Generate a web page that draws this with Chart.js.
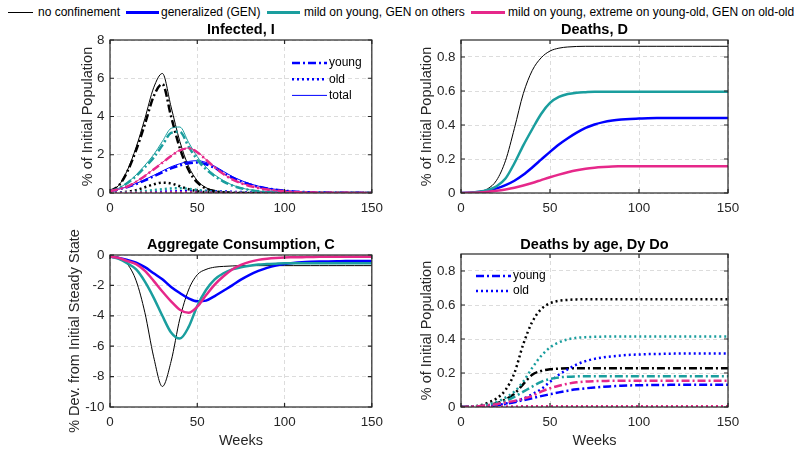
<!DOCTYPE html>
<html>
<head>
<meta charset="utf-8">
<script src="https://cdn.jsdelivr.net/npm/chart.js@4.4.0/dist/chart.umd.min.js"></script>
<style>
  body { margin:0; background:#fff; width:805px; height:451px; position:relative; overflow:hidden; font-family:"Liberation Sans", Arial, sans-serif; }
  canvas { position:absolute; }
  #topLegend { position:absolute; left:0; top:0; width:805px; height:24px; font-size:12px; color:#000; }
  #topLegend .ln { position:absolute; }
  #topLegend .tx { position:absolute; top:5px; white-space:nowrap; }
</style>
</head>
<body>
<div id="topLegend"></div>
<canvas id="infected" width="390" height="200" style="left:0;top:20px"></canvas>
<canvas id="deaths" width="405" height="200" style="left:400px;top:20px"></canvas>
<canvas id="consumption" width="390" height="231" style="left:0;top:220px"></canvas>
<canvas id="deathsAge" width="405" height="231" style="left:400px;top:220px"></canvas>
<script>
// weeks on x axis
const weeks = [0,5,10,15,20,25,30,35,40,45,50,55,60,65,70,75,80,85,90,95,100,105,110,115,120,125,130,135,140,145,150];

const scenarios = ['no confinement', 'generalized (GEN)', 'mild on young, GEN on others', 'mild on young, extreme on young-old, GEN on old-old'];
const colors = ['#000000', '#0000ff', '#1a9e9e', '#e6288a'];

// Infected, % of initial population (total / young / old)
const infTotalNone  = [0.1,0.4,1.2,2.4,3.9,5.5,6.25,4.5,2.7,1.4,0.65,0.28,0.12,0.05,0.02,0.01,0,0,0,0,0,0,0,0,0,0,0,0,0,0,0];
const infYoungNone  = [0.1,0.38,1.13,2.25,3.6,5.05,5.7,4.0,2.35,1.2,0.55,0.24,0.1,0.04,0.02,0.01,0,0,0,0,0,0,0,0,0,0,0,0,0,0,0];
const infOldNone    = [0,0.02,0.07,0.15,0.3,0.45,0.54,0.5,0.35,0.2,0.1,0.04,0.02,0.01,0,0,0,0,0,0,0,0,0,0,0,0,0,0,0,0,0];
const infTotalGen   = [0.1,0.2,0.33,0.5,0.7,0.92,1.15,1.37,1.53,1.65,1.69,1.6,1.4,1.13,0.87,0.66,0.49,0.36,0.26,0.19,0.13,0.09,0.06,0.04,0.03,0.02,0.015,0.01,0.01,0.005,0.005];
const infYoungGen   = [0.1,0.19,0.31,0.47,0.66,0.87,1.08,1.29,1.44,1.55,1.59,1.5,1.31,1.05,0.81,0.61,0.45,0.33,0.24,0.175,0.12,0.08,0.055,0.035,0.03,0.02,0.015,0.01,0.01,0.005,0.005];
const infOldGen     = [0,0.01,0.02,0.03,0.04,0.05,0.07,0.08,0.09,0.1,0.1,0.1,0.09,0.08,0.06,0.05,0.04,0.03,0.02,0.015,0.01,0.01,0.005,0.005,0,0,0,0,0,0,0];
const infTotalMild  = [0.1,0.25,0.55,0.95,1.45,2.0,2.7,3.38,3.45,2.65,1.9,1.35,0.95,0.65,0.42,0.27,0.17,0.1,0.06,0.04,0.02,0.015,0.01,0.01,0.005,0.005,0,0,0,0,0];
const infYoungMild  = [0.1,0.24,0.52,0.89,1.35,1.85,2.5,3.14,3.2,2.43,1.74,1.24,0.88,0.6,0.39,0.25,0.16,0.09,0.06,0.04,0.02,0.015,0.01,0.01,0.005,0.005,0,0,0,0,0];
const infOldMild    = [0,0.01,0.03,0.06,0.1,0.15,0.2,0.24,0.25,0.22,0.16,0.11,0.07,0.05,0.03,0.02,0.01,0.01,0,0,0,0,0,0,0,0,0,0,0,0,0];
const infTotalExt   = [0.1,0.2,0.35,0.6,0.9,1.25,1.6,1.95,2.25,2.35,2.15,1.75,1.35,1.0,0.72,0.52,0.38,0.27,0.19,0.13,0.09,0.06,0.04,0.03,0.02,0.015,0.01,0.01,0.005,0.005,0.005];
const infYoungExt   = [0.1,0.2,0.34,0.59,0.89,1.23,1.58,1.93,2.23,2.33,2.13,1.74,1.34,0.99,0.71,0.51,0.37,0.26,0.18,0.13,0.09,0.06,0.04,0.03,0.02,0.015,0.01,0.01,0.005,0.005,0.005];
const infOldExt     = [0,0.005,0.007,0.01,0.012,0.015,0.018,0.02,0.02,0.02,0.02,0.015,0.012,0.01,0.008,0.006,0.005,0.004,0.003,0.002,0.002,0.001,0,0,0,0,0,0,0,0,0];

// Deaths, % of initial population
const deathsNone = [0,0.002,0.008,0.025,0.075,0.19,0.38,0.585,0.72,0.795,0.835,0.852,0.859,0.862,0.863,0.863,0.863,0.863,0.863,0.863,0.863,0.863,0.863,0.863,0.863,0.863,0.863,0.863,0.863,0.863,0.863];
const deathsGen  = [0,0.002,0.006,0.014,0.027,0.046,0.072,0.107,0.15,0.196,0.242,0.285,0.322,0.355,0.383,0.403,0.417,0.426,0.432,0.436,0.438,0.44,0.441,0.441,0.441,0.441,0.441,0.441,0.441,0.441,0.441];
const deathsMild = [0,0.002,0.007,0.018,0.04,0.085,0.175,0.28,0.375,0.465,0.53,0.565,0.582,0.59,0.593,0.595,0.595,0.595,0.595,0.595,0.595,0.595,0.595,0.595,0.595,0.595,0.595,0.595,0.595,0.595,0.595];
const deathsExt  = [0,0.001,0.003,0.007,0.013,0.021,0.031,0.044,0.059,0.076,0.093,0.108,0.122,0.134,0.143,0.149,0.153,0.156,0.157,0.158,0.158,0.158,0.158,0.158,0.158,0.158,0.158,0.158,0.158,0.158,0.158];

// Aggregate consumption, % dev. from initial steady state
const consNone = [-0.1,-0.15,-0.6,-1.7,-3.8,-6.7,-8.65,-7.0,-4.2,-2.3,-1.3,-0.95,-0.8,-0.75,-0.72,-0.7,-0.7,-0.7,-0.7,-0.7,-0.7,-0.7,-0.7,-0.7,-0.7,-0.7,-0.7,-0.7,-0.7,-0.7,-0.7];
const consGen  = [-0.1,-0.2,-0.33,-0.5,-0.8,-1.2,-1.6,-2.1,-2.5,-2.85,-3.05,-3.0,-2.7,-2.35,-2.0,-1.62,-1.3,-1.05,-0.85,-0.7,-0.6,-0.53,-0.48,-0.45,-0.43,-0.42,-0.41,-0.4,-0.4,-0.39,-0.39];
const consMild = [-0.1,-0.25,-0.55,-0.95,-1.75,-2.8,-4.0,-5.1,-5.5,-4.75,-3.35,-2.3,-1.6,-1.2,-0.95,-0.8,-0.7,-0.63,-0.6,-0.57,-0.55,-0.55,-0.55,-0.55,-0.55,-0.55,-0.55,-0.55,-0.55,-0.55,-0.55];
const consExt  = [-0.1,-0.2,-0.4,-0.6,-1.05,-1.7,-2.4,-3.05,-3.6,-3.8,-3.4,-2.65,-1.95,-1.4,-0.95,-0.65,-0.45,-0.32,-0.24,-0.19,-0.16,-0.15,-0.14,-0.13,-0.12,-0.12,-0.12,-0.12,-0.12,-0.12,-0.12];

// Deaths by age, young (Dy) and old (Do)
const dyNone = [0,0.001,0.003,0.01,0.022,0.045,0.078,0.135,0.19,0.212,0.222,0.226,0.228,0.228,0.228,0.228,0.228,0.228,0.228,0.228,0.228,0.228,0.228,0.228,0.228,0.228,0.228,0.228,0.228,0.228,0.228];
const doNone = [0,0.002,0.008,0.025,0.05,0.1,0.2,0.37,0.5,0.575,0.61,0.625,0.63,0.633,0.634,0.634,0.634,0.634,0.634,0.634,0.634,0.634,0.634,0.634,0.634,0.634,0.634,0.634,0.634,0.634,0.634];
const dyGen  = [0,0.001,0.002,0.005,0.01,0.018,0.028,0.04,0.052,0.064,0.075,0.086,0.096,0.104,0.11,0.115,0.119,0.122,0.125,0.127,0.128,0.129,0.13,0.13,0.131,0.131,0.131,0.131,0.131,0.131,0.131];
const doGen  = [0,0.001,0.002,0.005,0.011,0.02,0.032,0.05,0.075,0.105,0.148,0.19,0.222,0.25,0.27,0.283,0.292,0.298,0.303,0.307,0.309,0.311,0.312,0.313,0.314,0.315,0.315,0.315,0.315,0.315,0.315];
const dyMild = [0,0.001,0.003,0.008,0.018,0.035,0.06,0.09,0.12,0.148,0.165,0.174,0.178,0.18,0.181,0.181,0.181,0.181,0.181,0.181,0.181,0.181,0.181,0.181,0.181,0.181,0.181,0.181,0.181,0.181,0.181];
const doMild = [0,0.002,0.006,0.015,0.03,0.055,0.09,0.15,0.23,0.3,0.35,0.38,0.398,0.407,0.411,0.413,0.414,0.415,0.415,0.415,0.415,0.415,0.415,0.415,0.415,0.415,0.415,0.415,0.415,0.415,0.415];
const dyExt  = [0,0.002,0.005,0.01,0.017,0.027,0.036,0.049,0.065,0.09,0.11,0.125,0.137,0.145,0.15,0.152,0.153,0.154,0.154,0.154,0.154,0.154,0.154,0.154,0.154,0.154,0.154,0.154,0.154,0.154,0.154];
const doExt  = [0,0.001,0.001,0.002,0.002,0.003,0.003,0.004,0.004,0.004,0.004,0.005,0.005,0.005,0.005,0.005,0.005,0.005,0.005,0.005,0.005,0.005,0.005,0.005,0.005,0.005,0.005,0.005,0.005,0.005,0.005];

const frame = '#262626';
const gridCol = '#dcdcdc';
const dashDot = [8, 3, 2, 3];
const dotted = [2, 3];
Chart.defaults.font.family = '"Liberation Sans", Arial, sans-serif';

// top legend, built from the scenario list
const legendPos = [[8, 25, 38], [126, 33, 161], [267, 33, 304], [471, 34, 508]];
const topLegend = document.getElementById('topLegend');
scenarios.forEach((name, i) => {
    const ln = document.createElement('div');
    ln.className = 'ln';
    const w = i === 0 ? 1 : 2.5;
    ln.style.cssText = `left:${legendPos[i][0]}px;width:${legendPos[i][1]}px;top:${12.5 - w / 2}px;height:${w}px;background:${colors[i]}`;
    const tx = document.createElement('span');
    tx.className = 'tx';
    tx.style.left = legendPos[i][2] + 'px';
    tx.textContent = name;
    topLegend.appendChild(ln);
    topLegend.appendChild(tx);
});

function series(values, color, width, dash, order) {
    return {
        data: weeks.map((w, i) => ({ x: w, y: values[i] })),
        borderColor: color,
        borderWidth: width,
        borderDash: dash || [],
        borderCapStyle: 'butt',
        pointRadius: 0,
        fill: false,
        cubicInterpolationMode: 'monotone',
        order: order
    };
}

// matlab style box with inward ticks
const boxPlugin = {
    id: 'box',
    afterDatasetsDraw(chart) {
        const { ctx, chartArea: a, scales } = chart;
        ctx.save();
        ctx.strokeStyle = frame;
        ctx.lineWidth = 1.2;
        ctx.setLineDash([]);
        ctx.strokeRect(a.left, a.top, a.right - a.left, a.bottom - a.top);
        const t = 4;
        ctx.beginPath();
        scales.x.ticks.forEach(tk => {
            const px = scales.x.getPixelForValue(tk.value);
            ctx.moveTo(px, a.bottom); ctx.lineTo(px, a.bottom - t);
            ctx.moveTo(px, a.top); ctx.lineTo(px, a.top + t);
        });
        scales.y.ticks.forEach(tk => {
            const py = scales.y.getPixelForValue(tk.value);
            ctx.moveTo(a.left, py); ctx.lineTo(a.left + t, py);
            ctx.moveTo(a.right, py); ctx.lineTo(a.right - t, py);
        });
        ctx.stroke();
        ctx.restore();
    }
};

function keyPlugin(items, x, y, dy) {
    return {
        id: 'key',
        afterDraw(chart) {
            const ctx = chart.ctx;
            ctx.save();
            ctx.font = '12px "Liberation Sans", Arial, sans-serif';
            ctx.textBaseline = 'middle';
            ctx.fillStyle = '#000';
            items.forEach((it, i) => {
                const yy = y + i * dy;
                ctx.strokeStyle = '#0000ff';
                ctx.lineWidth = it.width;
                ctx.setLineDash(it.dash);
                ctx.beginPath();
                ctx.moveTo(x, yy);
                ctx.lineTo(x + 35, yy);
                ctx.stroke();
                ctx.setLineDash([]);
                ctx.fillText(it.label, x + 37, yy);
            });
            ctx.restore();
        }
    };
}

function makeChart(id, datasets, o) {
    const plugins = [boxPlugin];
    if (o.key) plugins.push(o.key);
    return new Chart(document.getElementById(id), {
        type: 'line',
        data: { datasets: datasets },
        plugins: plugins,
        options: {
            responsive: false,
            animation: false,
            devicePixelRatio: 1,
            layout: { padding: { left: o.padLeft, right: o.padRight, top: 0, bottom: 0 } },
            plugins: {
                legend: { display: false },
                tooltip: { enabled: false },
                title: {
                    display: true, text: o.title, fullSize: false, color: '#000',
                    font: { size: 14.5, weight: 'bold' },
                    padding: { top: o.titleTop, bottom: o.titleBottom }
                }
            },
            scales: {
                x: {
                    type: 'linear', min: 0, max: 150,
                    ticks: { stepSize: 50, color: frame, font: { size: 13.4 }, padding: 7, maxRotation: 0 },
                    grid: { color: gridCol, drawTicks: false },
                    border: { display: false, dash: [4, 3] },
                    title: { display: !!o.xTitle, text: o.xTitle || '', color: frame, font: { size: 14.5 }, padding: { top: 0, bottom: 1.3 } },
                    afterFit(s) { s.height = o.xHeight; }
                },
                y: {
                    min: o.yMin, max: o.yMax,
                    ticks: { stepSize: o.yStep, color: frame, font: { size: 13.4 }, padding: 5.5, includeBounds: false },
                    grid: { color: gridCol, drawTicks: false },
                    border: { display: false, dash: [4, 3] },
                    title: { display: true, text: o.yTitle, color: frame, font: { size: 14.5 }, padding: 0 },
                    afterFit(s) { s.width = o.yWidth; }
                }
            }
        }
    });
}

makeChart('infected', [
    series(infTotalNone, colors[0], 1, null, 12),
    series(infYoungNone, colors[0], 2.5, dashDot, 11),
    series(infOldNone, colors[0], 2.5, dotted, 10),
    series(infTotalGen, colors[1], 1, null, 9),
    series(infYoungGen, colors[1], 2.5, dashDot, 8),
    series(infOldGen, colors[1], 2.5, dotted, 7),
    series(infTotalMild, colors[2], 1, null, 6),
    series(infYoungMild, colors[2], 2.5, dashDot, 5),
    series(infOldMild, colors[2], 2.5, dotted, 4),
    series(infTotalExt, colors[3], 1, null, 3),
    series(infYoungExt, colors[3], 2.5, dashDot, 2),
    series(infOldExt, colors[3], 2.5, dotted, 1)
], {
    title: 'Infected, I', yTitle: '% of Initial Population',
    yMin: 0, yMax: 8, yStep: 2,
    padLeft: 79, padRight: 14, yWidth: 31, xHeight: 27, titleTop: 1.3, titleBottom: 1.3,
    key: keyPlugin([
        { label: 'young', width: 2.5, dash: dashDot },
        { label: 'old', width: 2.5, dash: dotted },
        { label: 'total', width: 1, dash: [] }
    ], 292, 43, 16.2)
});

makeChart('deaths', [
    series(deathsNone, colors[0], 1, null, 4),
    series(deathsGen, colors[1], 2.5, null, 3),
    series(deathsMild, colors[2], 2.5, null, 2),
    series(deathsExt, colors[3], 2.5, null, 1)
], {
    title: 'Deaths, D', yTitle: '% of Initial Population',
    yMin: 0, yMax: 0.9, yStep: 0.2,
    padLeft: 18, padRight: 77, yWidth: 43, xHeight: 27, titleTop: 1.3, titleBottom: 1.3
});

makeChart('consumption', [
    series(consNone, colors[0], 1, null, 4),
    series(consGen, colors[1], 2.5, null, 3),
    series(consMild, colors[2], 2.5, null, 2),
    series(consExt, colors[3], 2.5, null, 1)
], {
    title: 'Aggregate Consumption, C', yTitle: '% Dev. from Initial Steady State', xTitle: 'Weeks',
    yMin: -10, yMax: 0, yStep: 2,
    padLeft: 66, padRight: 14, yWidth: 44, xHeight: 44, titleTop: 16.3, titleBottom: 1.3
});

makeChart('deathsAge', [
    series(dyNone, colors[0], 2.5, dashDot, 8),
    series(doNone, colors[0], 2.5, dotted, 7),
    series(dyGen, colors[1], 2.5, dashDot, 6),
    series(doGen, colors[1], 2.5, dotted, 5),
    series(dyMild, colors[2], 2.5, dashDot, 4),
    series(doMild, colors[2], 2.5, dotted, 3),
    series(dyExt, colors[3], 2.5, dashDot, 2),
    series(doExt, colors[3], 2.5, dotted, 1)
], {
    title: 'Deaths by age, Dy Do', yTitle: '% of Initial Population', xTitle: 'Weeks',
    yMin: 0, yMax: 0.9, yStep: 0.2,
    padLeft: 18, padRight: 77, yWidth: 43, xHeight: 44, titleTop: 16.3, titleBottom: 0.3,
    key: keyPlugin([
        { label: 'young', width: 2.5, dash: dashDot },
        { label: 'old', width: 2.5, dash: dotted }
    ], 76, 56, 15)
});
</script>
</body>
</html>
